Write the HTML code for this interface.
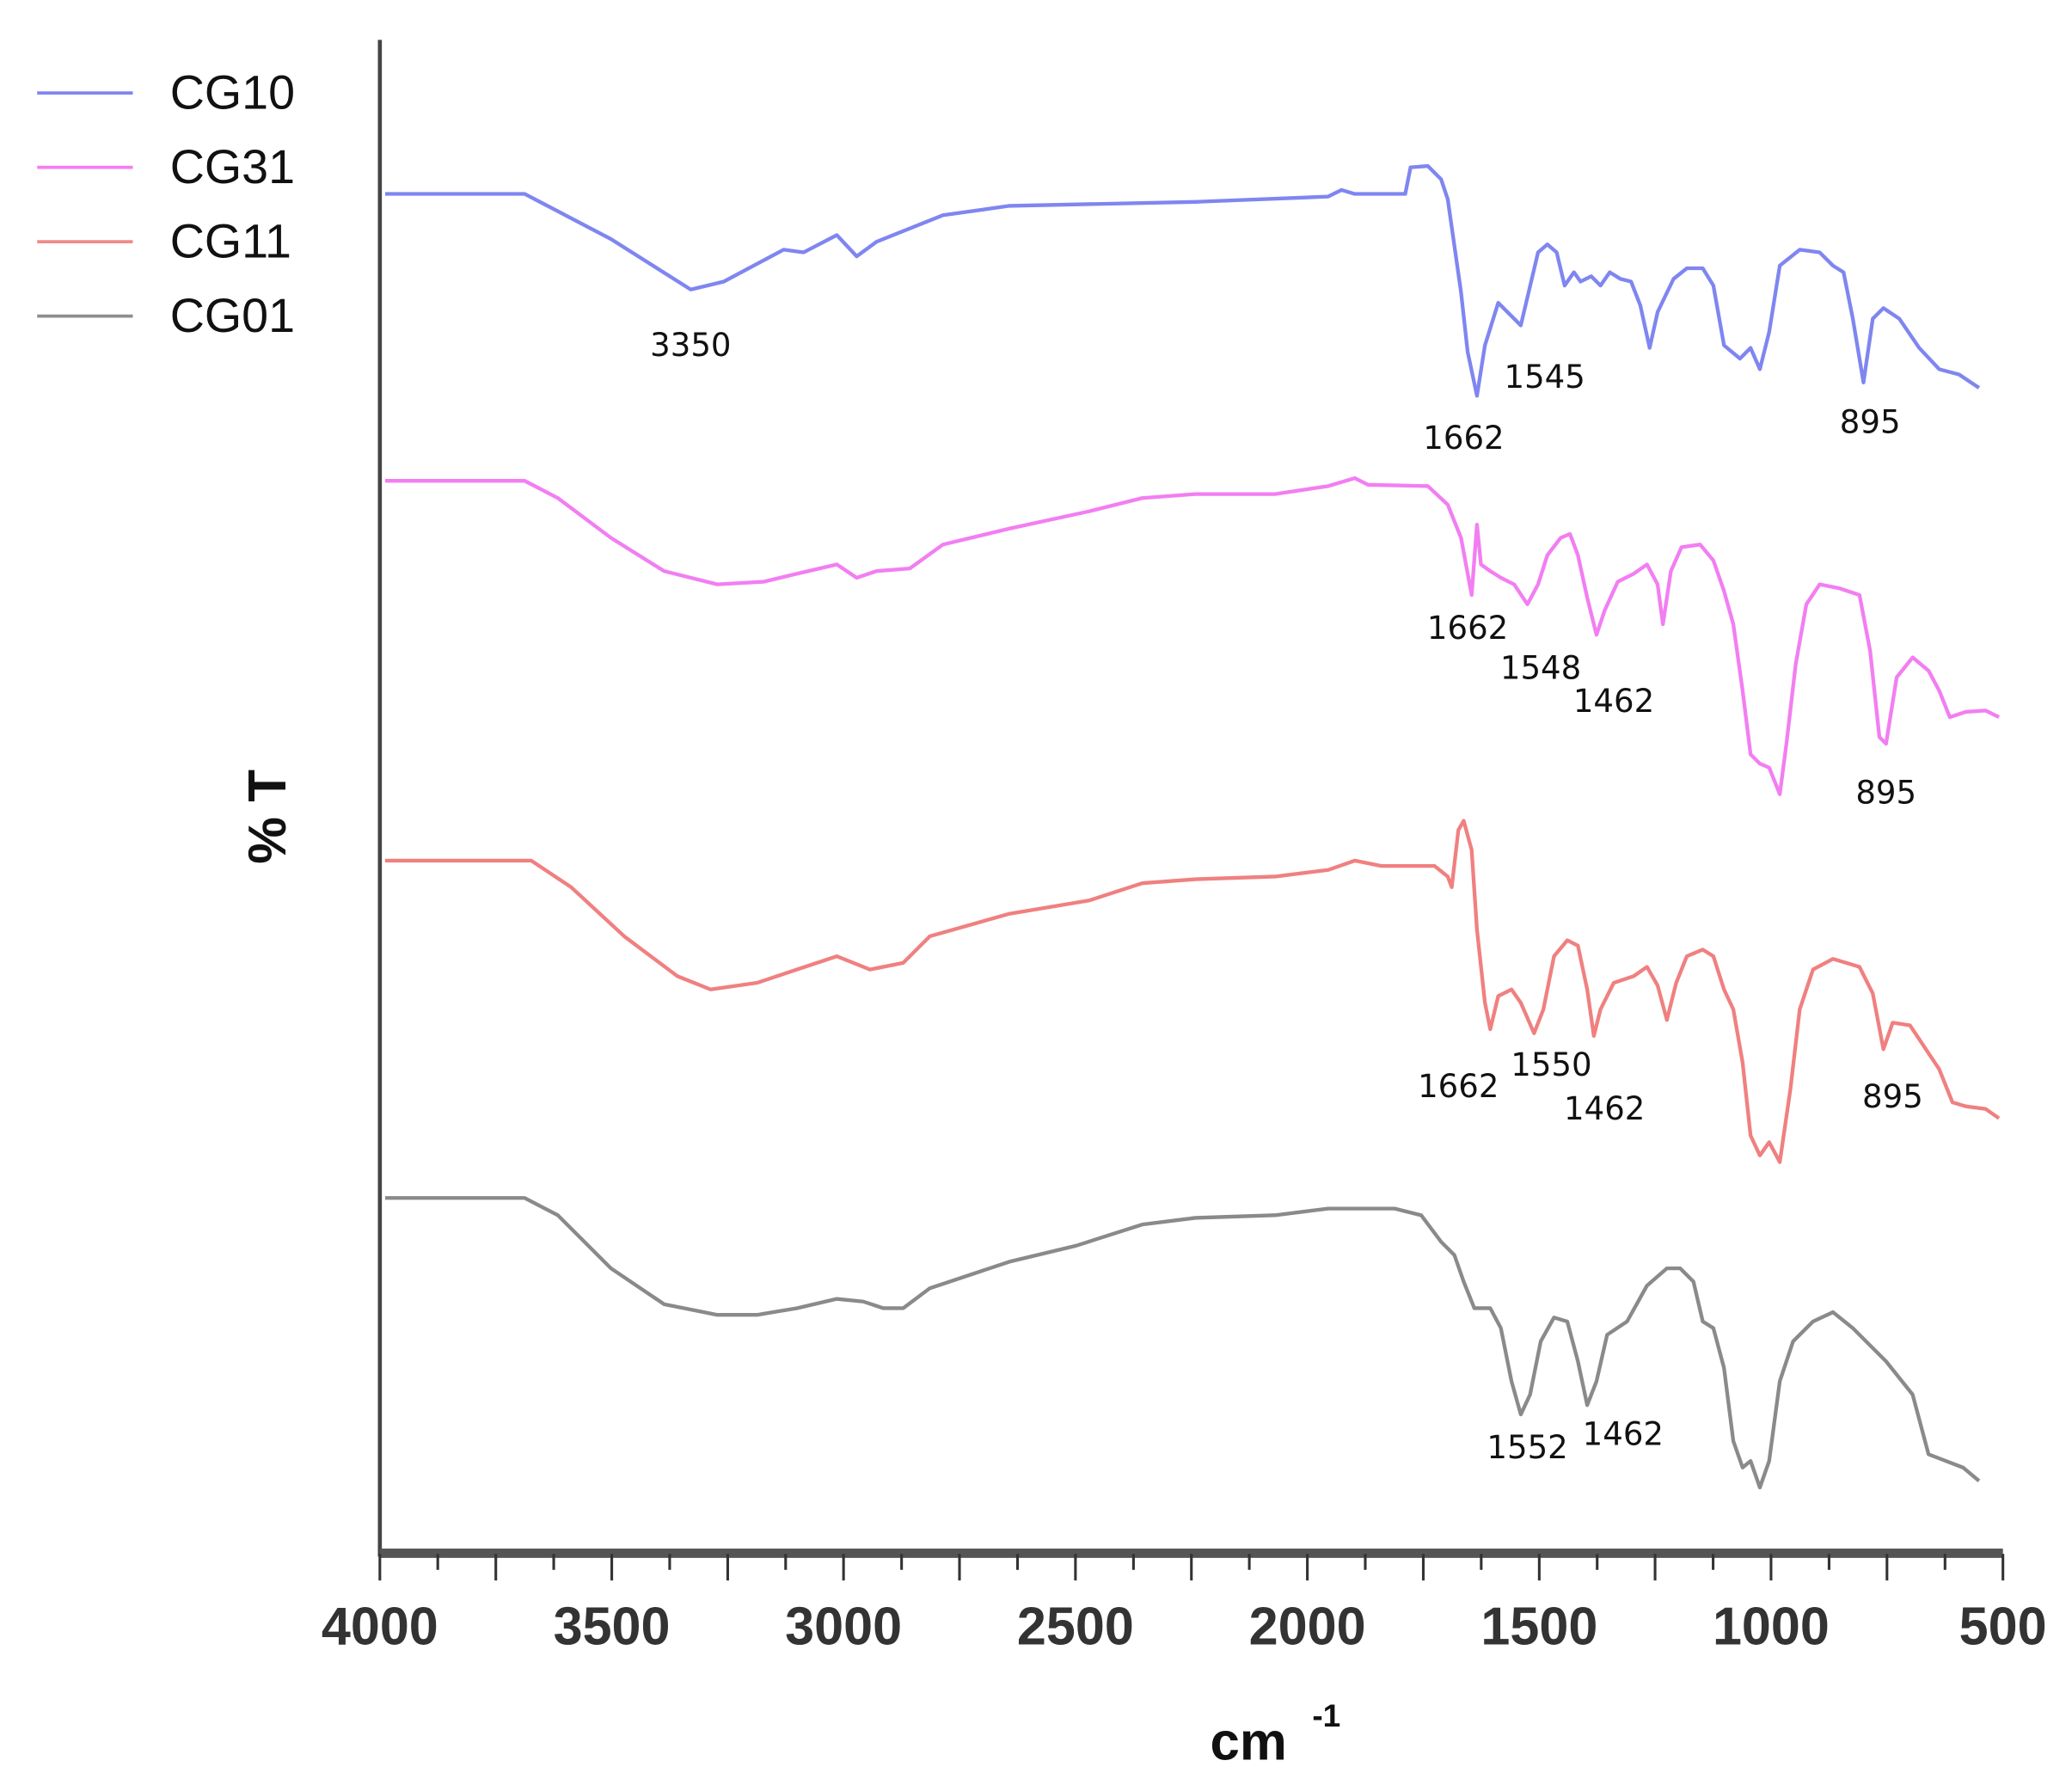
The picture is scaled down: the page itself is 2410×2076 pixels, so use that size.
<!DOCTYPE html>
<html><head><meta charset="utf-8"><style>html,body{margin:0;padding:0;background:#fff}svg{display:block}</style></head>
<body>
<svg width="2410" height="2076" viewBox="0 0 1560 1344" preserveAspectRatio="none" xmlns="http://www.w3.org/2000/svg">
<rect width="1560" height="1344" fill="#fff"/>
<g stroke-width="2.5" fill="none">
<line x1="28" y1="70" x2="100" y2="70" stroke="#7f86f0"/>
<line x1="28" y1="126" x2="100" y2="126" stroke="#f27ef2"/>
<line x1="28" y1="182" x2="100" y2="182" stroke="#f08a8a"/>
<line x1="28" y1="238" x2="100" y2="238" stroke="#8e8e8e"/>
</g>
<g font-family="Liberation Sans, sans-serif" font-size="36" fill="#111">
<text x="128" y="82">CG10</text><text x="128" y="138">CG31</text><text x="128" y="194">CG11</text><text x="128" y="250">CG01</text>
</g>
<line x1="286" y1="30" x2="286" y2="1172" stroke="#444" stroke-width="3"/>
<rect x="286" y="1166" width="1222" height="7" fill="#555"/>
<g stroke="#333" stroke-width="2">
<line x1="286" y1="1170" x2="286" y2="1190"/><line x1="329.6" y1="1170" x2="329.6" y2="1182"/>
<line x1="373.3" y1="1170" x2="373.3" y2="1190"/><line x1="416.9" y1="1170" x2="416.9" y2="1182"/>
<line x1="460.6" y1="1170" x2="460.6" y2="1190"/><line x1="504.2" y1="1170" x2="504.2" y2="1182"/>
<line x1="547.9" y1="1170" x2="547.9" y2="1190"/><line x1="591.5" y1="1170" x2="591.5" y2="1182"/>
<line x1="635.1" y1="1170" x2="635.1" y2="1190"/><line x1="678.8" y1="1170" x2="678.8" y2="1182"/>
<line x1="722.4" y1="1170" x2="722.4" y2="1190"/><line x1="766.1" y1="1170" x2="766.1" y2="1182"/>
<line x1="809.7" y1="1170" x2="809.7" y2="1190"/><line x1="853.4" y1="1170" x2="853.4" y2="1182"/>
<line x1="897" y1="1170" x2="897" y2="1190"/><line x1="940.6" y1="1170" x2="940.6" y2="1182"/>
<line x1="984.3" y1="1170" x2="984.3" y2="1190"/><line x1="1027.9" y1="1170" x2="1027.9" y2="1182"/>
<line x1="1071.6" y1="1170" x2="1071.6" y2="1190"/><line x1="1115.2" y1="1170" x2="1115.2" y2="1182"/>
<line x1="1158.9" y1="1170" x2="1158.9" y2="1190"/><line x1="1202.5" y1="1170" x2="1202.5" y2="1182"/>
<line x1="1246.1" y1="1170" x2="1246.1" y2="1190"/><line x1="1289.8" y1="1170" x2="1289.8" y2="1182"/>
<line x1="1333.4" y1="1170" x2="1333.4" y2="1190"/><line x1="1377.1" y1="1170" x2="1377.1" y2="1182"/>
<line x1="1420.7" y1="1170" x2="1420.7" y2="1190"/><line x1="1464.4" y1="1170" x2="1464.4" y2="1182"/>
<line x1="1508" y1="1170" x2="1508" y2="1190"/>
</g>
<g font-family="Liberation Sans, sans-serif" font-weight="bold" font-size="40" fill="#333" text-anchor="middle">
<text x="286" y="1238" textLength="88" lengthAdjust="spacingAndGlyphs">4000</text><text x="460.6" y="1238" textLength="88" lengthAdjust="spacingAndGlyphs">3500</text><text x="635.1" y="1238" textLength="88" lengthAdjust="spacingAndGlyphs">3000</text>
<text x="809.7" y="1238" textLength="88" lengthAdjust="spacingAndGlyphs">2500</text><text x="984.3" y="1238" textLength="88" lengthAdjust="spacingAndGlyphs">2000</text><text x="1158.9" y="1238" textLength="88" lengthAdjust="spacingAndGlyphs">1500</text>
<text x="1333.4" y="1238" textLength="88" lengthAdjust="spacingAndGlyphs">1000</text><text x="1508" y="1238" textLength="66" lengthAdjust="spacingAndGlyphs">500</text>
</g>
<text x="940" y="1325" font-family="Liberation Sans, sans-serif" font-weight="bold" font-size="40" fill="#111" text-anchor="middle">cm</text>
<text x="988" y="1300" font-family="Liberation Sans, sans-serif" font-weight="bold" font-size="24" fill="#111">-1</text>
<text transform="translate(215,615) rotate(-90)" font-family="Liberation Sans, sans-serif" font-weight="bold" font-size="40" fill="#111" text-anchor="middle">% T</text>
<g fill="none" stroke-width="2.8" stroke-linejoin="round">
<polyline stroke="#7f86f0" points="290,146 395,146 460,180 520,218 545,212 590,188 605,190 630,177 645,193 660,182 710,162 760,155 900,152 1000,148 1010,143 1020,146 1058,146 1062,126 1075,125 1085,135 1090,150 1100,220 1105,265 1112,298 1118,260 1128,228 1140,240 1145,245 1158,190 1165,184 1172,190 1178,215 1185,205 1190,212 1198,208 1205,215 1212,205 1220,210 1228,212 1235,230 1242,262 1248,235 1260,210 1270,202 1282,202 1290,215 1298,260 1310,270 1318,262 1325,278 1332,250 1340,200 1355,188 1370,190 1380,200 1388,205 1395,240 1403,288 1410,240 1418,232 1430,240 1445,262 1460,278 1475,282 1490,292"/>
<polyline stroke="#f27ef2" points="290,362 395,362 420,375 460,405 500,430 540,440 575,438 600,432 630,425 645,435 660,430 685,428 710,410 760,398 820,385 860,375 900,372 960,372 1000,366 1020,360 1030,365 1075,366 1090,380 1100,405 1108,448 1112,395 1115,425 1122,430 1130,435 1140,440 1150,455 1158,440 1165,418 1175,405 1182,402 1188,418 1195,450 1202,478 1208,460 1218,438 1230,432 1240,425 1248,440 1252,470 1258,430 1266,412 1280,410 1290,422 1298,445 1305,470 1312,520 1318,568 1325,575 1332,578 1340,598 1345,560 1352,500 1360,455 1370,440 1385,443 1400,448 1408,490 1415,555 1420,560 1428,510 1440,495 1452,505 1460,520 1468,540 1480,536 1495,535 1505,540"/>
<polyline stroke="#f08080" points="290,648 400,648 430,668 470,705 510,735 535,745 570,740 600,730 630,720 645,726 655,730 680,725 700,705 760,688 820,678 860,665 900,662 960,660 1000,655 1020,648 1040,652 1080,652 1090,660 1093,668 1098,625 1102,618 1108,640 1112,700 1118,755 1122,775 1128,750 1138,745 1145,755 1155,778 1162,760 1170,720 1180,708 1188,712 1195,745 1200,780 1205,760 1215,740 1230,735 1240,728 1248,742 1255,768 1262,740 1270,720 1282,715 1290,720 1298,745 1305,760 1312,800 1318,855 1325,870 1332,860 1340,875 1348,820 1355,760 1365,730 1380,722 1400,728 1410,748 1418,790 1425,770 1438,772 1450,790 1460,805 1470,830 1480,833 1495,835 1505,842"/>
<polyline stroke="#8a8a8a" points="290,902 395,902 420,915 460,955 500,982 540,990 570,990 600,985 630,978 650,980 665,985 680,985 700,970 760,950 810,938 860,922 900,917 960,915 1000,910 1050,910 1070,915 1085,935 1095,945 1102,965 1110,985 1122,985 1130,1000 1138,1040 1145,1065 1152,1050 1160,1010 1170,992 1180,995 1188,1025 1195,1058 1202,1040 1210,1005 1225,995 1240,968 1255,955 1265,955 1275,965 1282,995 1290,1000 1298,1030 1305,1085 1312,1105 1318,1100 1325,1120 1332,1100 1340,1040 1350,1010 1365,995 1380,988 1395,1000 1420,1025 1440,1050 1452,1095 1465,1100 1478,1105 1490,1115"/>
</g>
<g font-family="DejaVu Sans, sans-serif" font-size="24" fill="#111" text-anchor="middle">
<text x="520" y="268">3350</text><text x="1102" y="338">1662</text><text x="1163" y="292">1545</text><text x="1408" y="326">895</text>
<text x="1105" y="481">1662</text><text x="1160" y="511">1548</text><text x="1215" y="536">1462</text><text x="1420" y="605">895</text>
<text x="1098" y="826">1662</text><text x="1168" y="810">1550</text><text x="1208" y="843">1462</text><text x="1425" y="834">895</text>
<text x="1150" y="1098">1552</text><text x="1222" y="1088">1462</text>
</g>
</svg>
</body></html>
